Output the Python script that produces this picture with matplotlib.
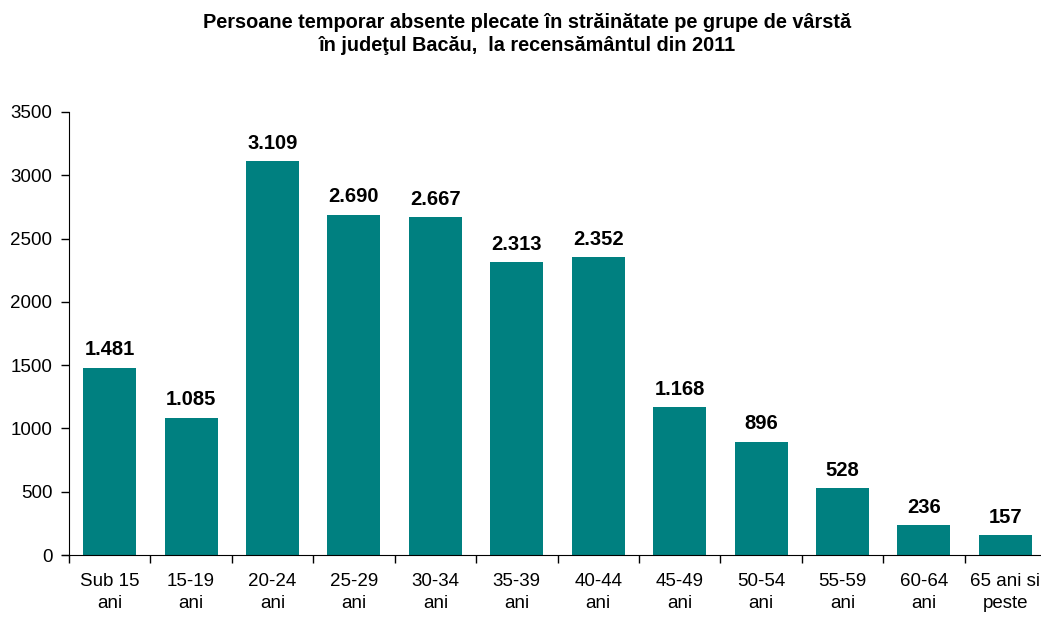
import numpy as np
import matplotlib
matplotlib.use("Agg")
import matplotlib.pyplot as plt

plt.rcParams["font.family"] = ["Liberation Sans", "DejaVu Sans"]

# age groups and number of persons (2011 census, Bacau county)
categories = ["Sub 15\nani", "15-19\nani", "20-24\nani", "25-29\nani", "30-34\nani",
              "35-39\nani", "40-44\nani", "45-49\nani", "50-54\nani", "55-59\nani",
              "60-64\nani", "65 ani si\npeste"]
values = [1481, 1085, 3109, 2690, 2667, 2313, 2352, 1168, 896, 528, 236, 157]
yticks = [0, 500, 1000, 1500, 2000, 2500, 3000, 3500]

TEAL = "#008080"

fig = plt.figure(figsize=(10.41, 6.17), dpi=100)
ax = fig.add_axes([69 / 1041, 62 / 617, 977 / 1041, 443 / 617])

x = np.arange(len(values))
ax.bar(x, values, width=0.65, color=TEAL, zorder=2)

for xi, v in zip(x, values):
    lab = f"{v:,}".replace(",", ".")
    ax.annotate(lab, (xi, v), xytext=(0, 6), textcoords="offset points",
                ha="center", va="bottom", fontsize=14.5, fontweight="bold")

ax.set_xlim(-0.5, len(values) - 0.5)
ax.set_ylim(0, 3500)
ax.set_yticks(yticks)
ax.tick_params(axis="y", labelsize=13.5, length=6, width=1, pad=6)

ax.set_xticks(x)
ax.set_xticklabels(categories, fontsize=13.5, linespacing=1.4)
ax.set_xticks(np.arange(len(values) + 1) - 0.5, minor=True)
ax.tick_params(axis="x", which="major", length=0, pad=13)
ax.tick_params(axis="x", which="minor", length=6, width=1)

for s in ["top", "right"]:
    ax.spines[s].set_visible(False)
ax.spines["bottom"].set_bounds(-0.58, len(values) - 0.5)

fig.text(527 / 1041, 1 - 34 / 617,
         "Persoane temporar absente plecate în străinătate pe grupe de vârstă\n"
         "în judeţul Bacău,  la recensământul din 2011",
         ha="center", va="center", fontsize=14.3, fontweight="bold", linespacing=1.3)

fig.savefig("out.png", dpi=100)
